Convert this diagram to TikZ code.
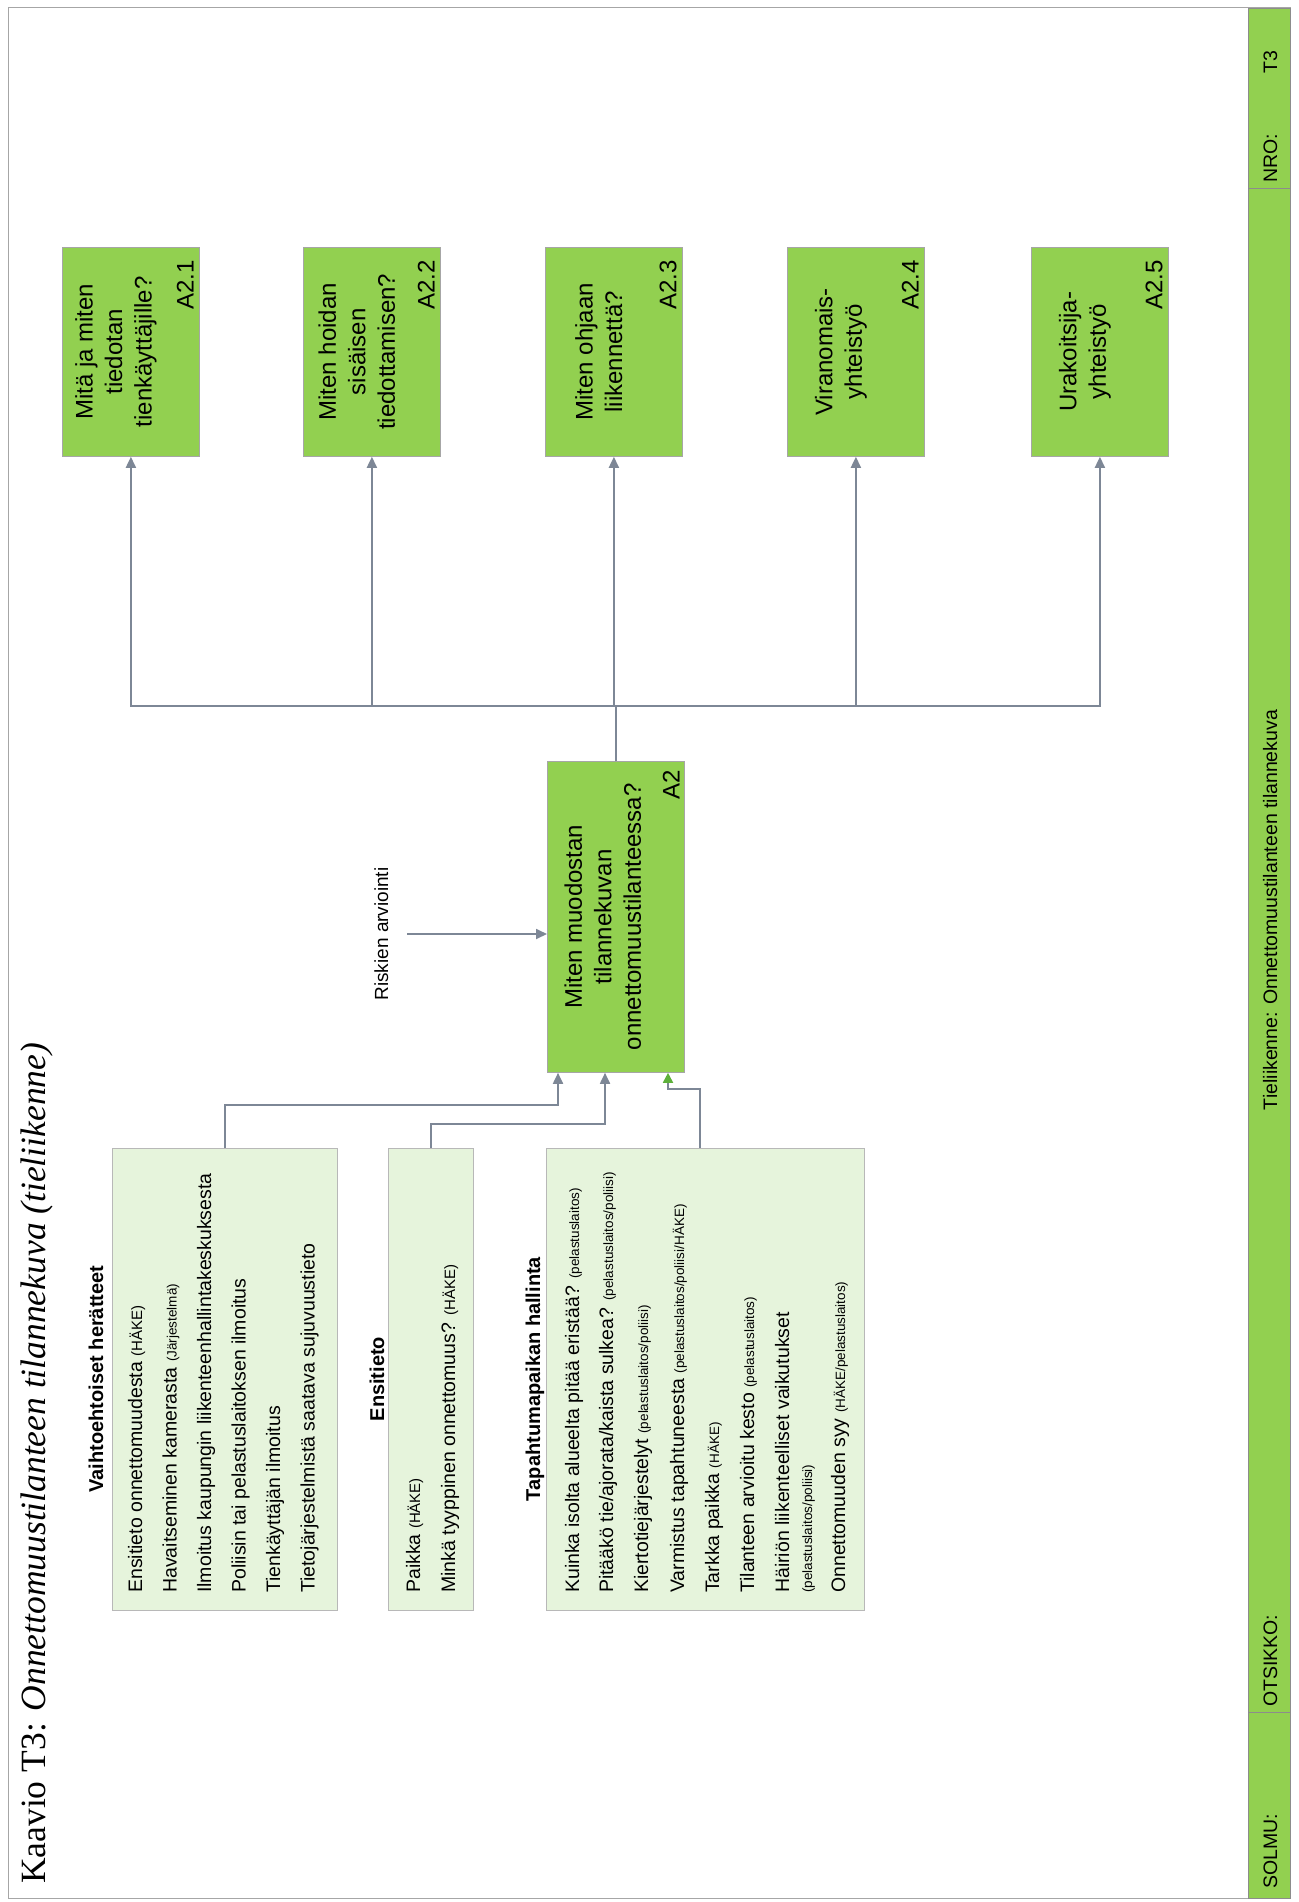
\documentclass[tikz,border=0pt]{standalone}
\usepackage{fontspec}
\setmainfont{Liberation Sans}
\newfontfamily\titlefont{Liberation Serif}
\usetikzlibrary{arrows.meta,calc}
\definecolor{boxgreen}{HTML}{92D050}
\definecolor{lightgreen}{HTML}{E6F4DC}
\definecolor{conncol}{HTML}{7D8796}
\definecolor{framecol}{HTML}{A6A6A6}
\definecolor{tipgreen}{HTML}{5DB03A}
\newcommand{\myfs}[2]{\fontsize{#1}{#2}\selectfont}
\newcommand{\smp}[1]{{\myfs{15}{18}#1}}
\newcommand{\xsp}[1]{{\myfs{13.5}{16}#1}}
\begin{document}
\begin{tikzpicture}[x=1pt,y=-1pt,
  gbox/.style={draw=black!35,line width=0.8pt,fill=boxgreen,inner sep=0pt,anchor=north west},
  lbox/.style={draw=black!28,line width=0.8pt,fill=lightgreen,inner sep=0pt,anchor=north west},
  gtext/.style={rotate=90,align=center,inner sep=0pt,font=\myfs{24}{29.5}},
  lbl/.style={rotate=90,inner sep=0pt,anchor=south east,font=\myfs{24}{29}},
  lline/.style={rotate=90,anchor=base west,inner sep=0pt,font=\myfs{19.5}{23}},
  hdr/.style={rotate=90,anchor=base,inner sep=0pt,font=\bfseries\myfs{20}{24}},
  strp/.style={rotate=90,inner sep=0pt,font=\myfs{19.5}{23}},
  conn/.style={draw=conncol,line width=1.8pt,-{Triangle[length=11pt,width=10pt]}},
  conn3/.style={draw=conncol,line width=1.8pt,-{Triangle[length=10pt,width=10pt,color=tipgreen]}}
]
\useasboundingbox (0,0) rectangle (1298,1902);
\fill[white] (0,0) rectangle (1298,1902);
% frame
\draw[framecol,line width=1pt] (8,8) rectangle (1290,1898);
% right strip
\node[gbox,draw=black!45,minimum width=42pt,minimum height=1890pt] (strip) at (1248,8) {};
\draw[black!45,line width=0.8pt] (1248,188) -- (1290,188);
\draw[black!45,line width=0.8pt] (1248,1712) -- (1290,1712);
\node[strp,anchor=base west] (nroval) at (1277,74) {T3};
\node[strp,anchor=base west] (nro) at (1277,183) {NRO:};
\node[strp,anchor=base] (otsval) at (1277,910) {Tieliikenne: Onnettomuustilanteen tilannekuva};
\node[strp,anchor=base west] (ots) at (1277,1707) {OTSIKKO:};
\node[strp,anchor=base west] (solmu) at (1277,1889) {SOLMU:};
% title
\node[rotate=90,anchor=base west,inner sep=0pt,font=\titlefont\myfs{35.5}{40}] (title) at (45,1884)
  {Kaavio T3: \textit{Onnettomuustilanteen tilannekuva (tieliikenne)}};
% top boxes
\node[gbox,minimum width=137pt,minimum height=209pt] (a21) at (62,247) {};
\node[gbox,minimum width=137pt,minimum height=209pt] (a22) at (303,247) {};
\node[gbox,minimum width=137pt,minimum height=209pt] (a23) at (545,247) {};
\node[gbox,minimum width=137pt,minimum height=209pt] (a24) at (787,247) {};
\node[gbox,minimum width=137pt,minimum height=209pt] (a25) at (1031,247) {};
\node[gtext] (t21) at ($(a21.center)+(-15,0)$) {Mitä ja miten\\tiedotan\\tienkäyttäjille?};
\node[gtext] (t22) at ($(a22.center)+(-15,0)$) {Miten hoidan\\sisäisen\\tiedottamisen?};
\node[gtext] (t23) at ($(a23.center)+(-15,0)$) {Miten ohjaan\\liikennettä?};
\node[gtext] (t24) at ($(a24.center)+(-15,0)$) {Viranomais-\\yhteistyö};
\node[gtext] (t25) at ($(a25.center)+(-15,0)$) {Urakoitsija-\\yhteistyö};
\node[lbl] (l21) at ($(a21.north east)+(-6,13)$) {A2.1};
\node[lbl] (l22) at ($(a22.north east)+(-6,13)$) {A2.2};
\node[lbl] (l23) at ($(a23.north east)+(-6,13)$) {A2.3};
\node[lbl] (l24) at ($(a24.north east)+(-6,13)$) {A2.4};
\node[lbl] (l25) at ($(a25.north east)+(-6,13)$) {A2.5};
% main box
\node[gbox,minimum width=137pt,minimum height=311pt] (a2) at (547,761) {};
\node[gtext] (t2) at ($(a2.center)+(-13,0)$) {Miten muodostan\\tilannekuvan\\onnettomuustilanteessa?};
\node[lbl] (l2) at ($(a2.north east)+(-5,9)$) {A2};
% outputs
\coordinate (bus) at (615.5,706);
\draw[conn] (a2.north) -- (a2.north |- bus) -| (a21.south);
\draw[conn] (a2.north) -- (a2.north |- bus) -| (a22.south);
\draw[conn] (a2.north) -- (a2.north |- bus) -| (a23.south);
\draw[conn] (a2.north) -- (a2.north |- bus) -| (a24.south);
\draw[conn] (a2.north) -- (a2.north |- bus) -| (a25.south);
% control
\coordinate (rsk) at (407,934);
\node[rotate=90,anchor=base,inner sep=0pt,font=\myfs{19}{23}] (rsklbl) at (388,934) {Riskien arviointi};
\draw[conn] (rsk) -- (rsk -| a2.west);
% lower boxes
\node[lbox,minimum width=225pt,minimum height=462pt] (vh) at (112,1148) {};
\node[lbox,minimum width=85pt,minimum height=462pt] (es) at (388,1148) {};
\node[lbox,minimum width=318pt,minimum height=462pt] (tp) at (546,1148) {};
\node[hdr] (vhh) at (103,1379) {Vaihtoehtoiset herätteet};
\node[hdr] (esh) at (384,1379) {Ensitieto};
\node[hdr] (tph) at (540,1379) {Tapahtumapaikan hallinta};
\node[lline] (v1) at (142,1593) {Ensitieto onnettomuudesta \smp{(HÄKE)}};
\node[lline] (v2) at (176.5,1593) {Havaitseminen kamerasta \xsp{(Järjestelmä)}};
\node[lline] (v3) at (211,1593) {Ilmoitus kaupungin liikenteenhallintakeskuksesta};
\node[lline] (v4) at (245.5,1593) {Poliisin tai pelastuslaitoksen ilmoitus};
\node[lline] (v5) at (280,1593) {Tienkäyttäjän ilmoitus};
\node[lline] (v6) at (314.5,1593) {Tietojärjestelmistä saatava sujuvuustieto};
\node[lline] (e1) at (420,1593) {Paikka \smp{(HÄKE)}};
\node[lline] (e2) at (455,1593) {Minkä tyyppinen onnettomuus? \smp{(HÄKE)}};
\node[lline] (p1) at (579,1593) {Kuinka isolta alueelta pitää eristää? \xsp{(pelastuslaitos)}};
\node[lline] (p2) at (613,1593) {Pitääkö tie/ajorata/kaista sulkea? \xsp{(pelastuslaitos/poliisi)}};
\node[lline] (p3) at (648,1593) {Kiertotiejärjestelyt \xsp{(pelastuslaitos/poliisi)}};
\node[lline] (p4) at (684,1593) {Varmistus tapahtuneesta \xsp{(pelastuslaitos/poliisi/HÄKE)}};
\node[lline] (p5) at (719,1593) {Tarkka paikka \xsp{(HÄKE)}};
\node[lline] (p6) at (754,1593) {Tilanteen arvioitu kesto \xsp{(pelastuslaitos)}};
\node[lline] (p7) at (789,1593) {Häiriön liikenteelliset vaikutukset};
\node[lline] (p7b) at (812,1593) {\xsp{(pelastuslaitos/poliisi)}};
\node[lline] (p8) at (845,1593) {Onnettomuuden syy \xsp{(HÄKE/pelastuslaitos)}};
% inputs
\coordinate (in1) at ($(a2.south west)+(11,0)$);
\coordinate (in2) at ($(a2.south west)+(58,0)$);
\coordinate (in3) at ($(a2.south west)+(121,0)$);
\coordinate (tpout) at ($(tp.north west)+(154,0)$);
\draw[conn] (vh.north) |- ($(in1)+(0,32)$) -- (in1);
\draw[conn] (es.north) |- ($(in2)+(0,51)$) -- (in2);
\draw[conn3] (tpout) |- ($(in3)+(0,16)$) -- (in3);
\end{tikzpicture}
\end{document}
